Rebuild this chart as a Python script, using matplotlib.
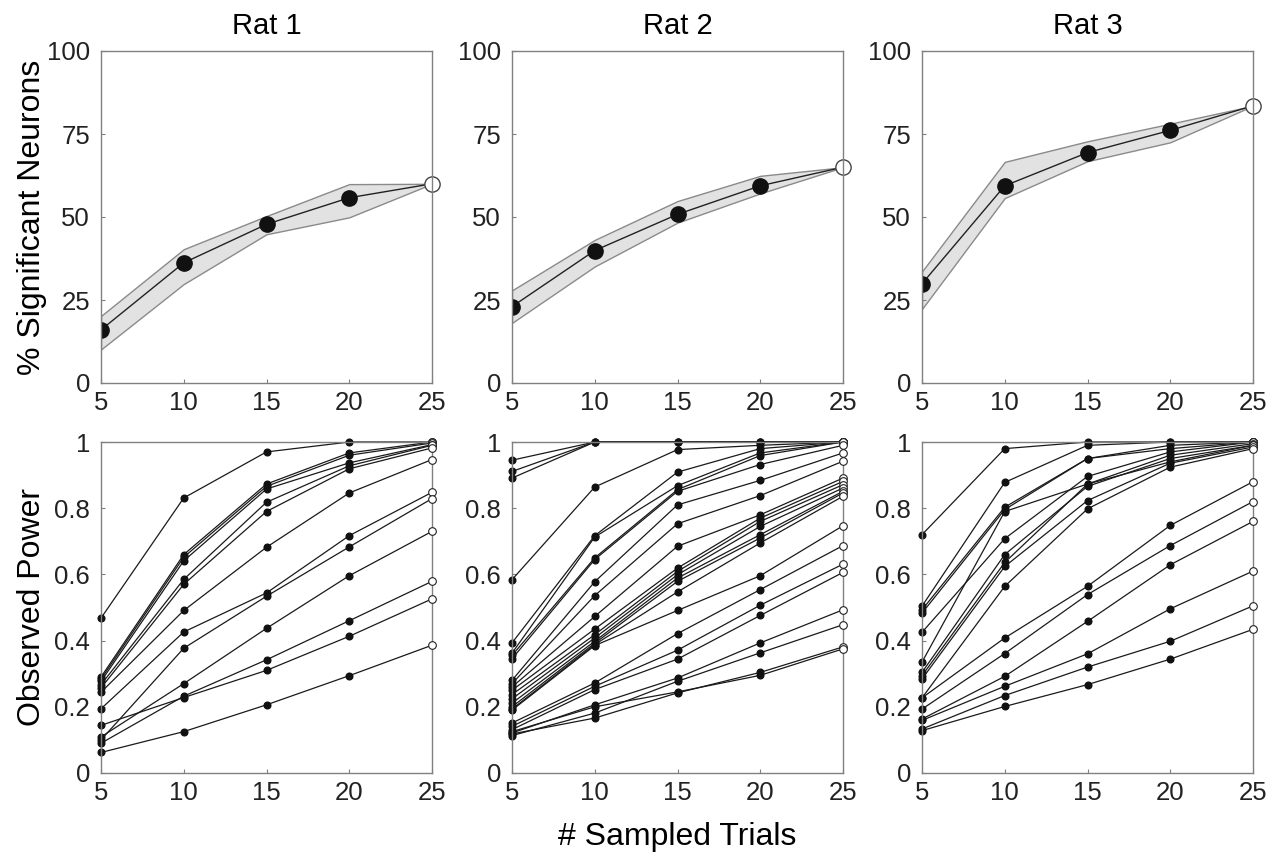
import numpy as np
import matplotlib
matplotlib.use('Agg')
import matplotlib.pyplot as plt

plt.rcParams['font.family'] = ['Liberation Sans', 'DejaVu Sans']

trials = [5, 10, 15, 20, 25]
rats = ['Rat 1', 'Rat 2', 'Rat 3']

# % significant neurons (mean, lower and upper band)
sig_mean = [
    [16.0, 36.2, 47.8, 55.8, 60.0],
    [23.0, 39.9, 50.8, 59.4, 65.0],
    [29.9, 59.4, 69.4, 76.1, 83.5],
]
sig_low = [
    [10.1, 29.8, 44.8, 49.9, 60.0],
    [18.1, 35.1, 48.3, 57.1, 65.0],
    [22.3, 55.7, 66.8, 72.5, 83.5],
]
sig_high = [
    [20.2, 40.3, 50.3, 59.9, 60.0],
    [27.9, 43.1, 54.8, 62.4, 65.0],
    [33.6, 66.6, 72.8, 78.1, 83.5],
]

# observed power per neuron
power_rat1 = [
    [0.468, 0.831, 0.970, 1.000, 1.000],
    [0.290, 0.660, 0.873, 0.967, 1.000],
    [0.284, 0.652, 0.866, 0.960, 0.997],
    [0.277, 0.641, 0.858, 0.937, 0.992],
    [0.267, 0.585, 0.818, 0.928, 0.990],
    [0.257, 0.570, 0.790, 0.919, 0.982],
    [0.244, 0.491, 0.682, 0.846, 0.947],
    [0.194, 0.426, 0.544, 0.717, 0.848],
    [0.100, 0.377, 0.534, 0.683, 0.829],
    [0.109, 0.270, 0.437, 0.596, 0.730],
    [0.090, 0.232, 0.342, 0.460, 0.579],
    [0.144, 0.228, 0.310, 0.413, 0.526],
    [0.062, 0.125, 0.206, 0.294, 0.386],
]
power_rat2 = [
    [0.945, 1.000, 1.000, 1.000, 1.000],
    [0.911, 1.000, 1.000, 1.000, 1.000],
    [0.891, 1.000, 1.000, 1.000, 1.000],
    [0.584, 0.864, 0.977, 0.990, 1.000],
    [0.393, 0.717, 0.909, 0.980, 1.000],
    [0.362, 0.713, 0.868, 0.967, 1.000],
    [0.355, 0.650, 0.856, 0.959, 1.000],
    [0.345, 0.645, 0.851, 0.932, 0.990],
    [0.280, 0.578, 0.810, 0.884, 0.967],
    [0.270, 0.536, 0.753, 0.838, 0.942],
    [0.260, 0.473, 0.685, 0.780, 0.891],
    [0.250, 0.435, 0.619, 0.770, 0.881],
    [0.237, 0.418, 0.609, 0.760, 0.871],
    [0.224, 0.408, 0.599, 0.745, 0.861],
    [0.211, 0.398, 0.589, 0.720, 0.851],
    [0.200, 0.392, 0.579, 0.710, 0.846],
    [0.193, 0.388, 0.547, 0.695, 0.836],
    [0.190, 0.385, 0.491, 0.596, 0.747],
    [0.151, 0.272, 0.421, 0.554, 0.687],
    [0.141, 0.262, 0.371, 0.507, 0.631],
    [0.131, 0.252, 0.344, 0.476, 0.606],
    [0.121, 0.206, 0.287, 0.393, 0.493],
    [0.113, 0.181, 0.277, 0.363, 0.448],
    [0.118, 0.166, 0.242, 0.304, 0.381],
    [0.125, 0.200, 0.245, 0.295, 0.375],
]
power_rat3 = [
    [0.720, 0.980, 1.000, 1.000, 1.000],
    [0.504, 0.878, 0.990, 1.000, 1.000],
    [0.493, 0.803, 0.950, 0.990, 1.000],
    [0.483, 0.796, 0.950, 0.980, 1.000],
    [0.425, 0.708, 0.896, 0.970, 1.000],
    [0.335, 0.790, 0.873, 0.960, 0.995],
    [0.304, 0.660, 0.866, 0.950, 0.990],
    [0.294, 0.636, 0.873, 0.940, 0.990],
    [0.284, 0.624, 0.823, 0.936, 0.985],
    [0.227, 0.564, 0.798, 0.924, 0.980],
    [0.227, 0.408, 0.564, 0.748, 0.880],
    [0.193, 0.361, 0.539, 0.687, 0.820],
    [0.163, 0.292, 0.458, 0.629, 0.760],
    [0.159, 0.262, 0.360, 0.496, 0.610],
    [0.133, 0.234, 0.320, 0.398, 0.505],
    [0.128, 0.201, 0.267, 0.344, 0.434],
]
power = [power_rat1, power_rat2, power_rat3]

frame = '#808080'
tick_fs = 18.5
label_fs = 23

fig = plt.figure(figsize=(12.74, 8.52), dpi=100)
lefts = [101, 512, 922]
W, H = 1274, 852


def style(ax):
    for s in ax.spines.values():
        s.set_color(frame)
        s.set_linewidth(1.0)
    ax.tick_params(direction='in', length=3, width=0.8, color=frame,
                   labelsize=tick_fs, labelcolor='#222222')
    ax.tick_params(axis='x', pad=6)
    ax.tick_params(axis='y', pad=8)
    ax.set_xlim(5, 25)
    ax.set_xticks(trials)


for i in range(3):
    # top row
    ax = fig.add_axes([lefts[i] / W, (H - 383) / H, 331 / W, 332 / H])
    style(ax)
    ax.set_ylim(0, 100)
    ax.set_yticks([0, 25, 50, 75, 100])
    ax.fill_between(trials, sig_low[i], sig_high[i], facecolor='#e2e2e2',
                    edgecolor='#8a8a8a', linewidth=1.0)
    ax.plot(trials, sig_mean[i], color='#222222', lw=1.0)
    ax.plot(trials[:-1], sig_mean[i][:-1], 'o', ms=11, color='#111111')
    ax.plot(trials[-1], sig_mean[i][-1], 'o', ms=11, mfc='white',
            mec='#444444', mew=1.0, clip_on=False)
    ax.set_title(rats[i], fontsize=21, pad=12)
    if i == 0:
        ax.set_ylabel('% Significant Neurons', fontsize=label_fs)
        ax.yaxis.set_label_coords(-0.163, 0.5)

    # bottom row
    ax = fig.add_axes([lefts[i] / W, (H - 773) / H, 331 / W, 331 / H])
    style(ax)
    ax.set_ylim(0, 1)
    ax.set_yticks([0, 0.2, 0.4, 0.6, 0.8, 1])
    ax.set_yticklabels(['0', '0.2', '0.4', '0.6', '0.8', '1'])
    for vals in power[i]:
        ax.plot(trials, vals, color='#1a1a1a', lw=0.9, clip_on=False)
        ax.plot(trials[:-1], vals[:-1], 'o', ms=4.8, color='#111111',
                clip_on=False)
        ax.plot(trials[-1], vals[-1], 'o', ms=5.5, mfc='white',
                mec='#222222', mew=0.8, clip_on=False, zorder=3)
    if i == 0:
        ax.set_ylabel('Observed Power', fontsize=label_fs)
        ax.yaxis.set_label_coords(-0.163, 0.5)
    if i == 1:
        ax.set_xlabel('# Sampled Trials', fontsize=label_fs, labelpad=12)

fig.savefig('out.png', dpi=100)
